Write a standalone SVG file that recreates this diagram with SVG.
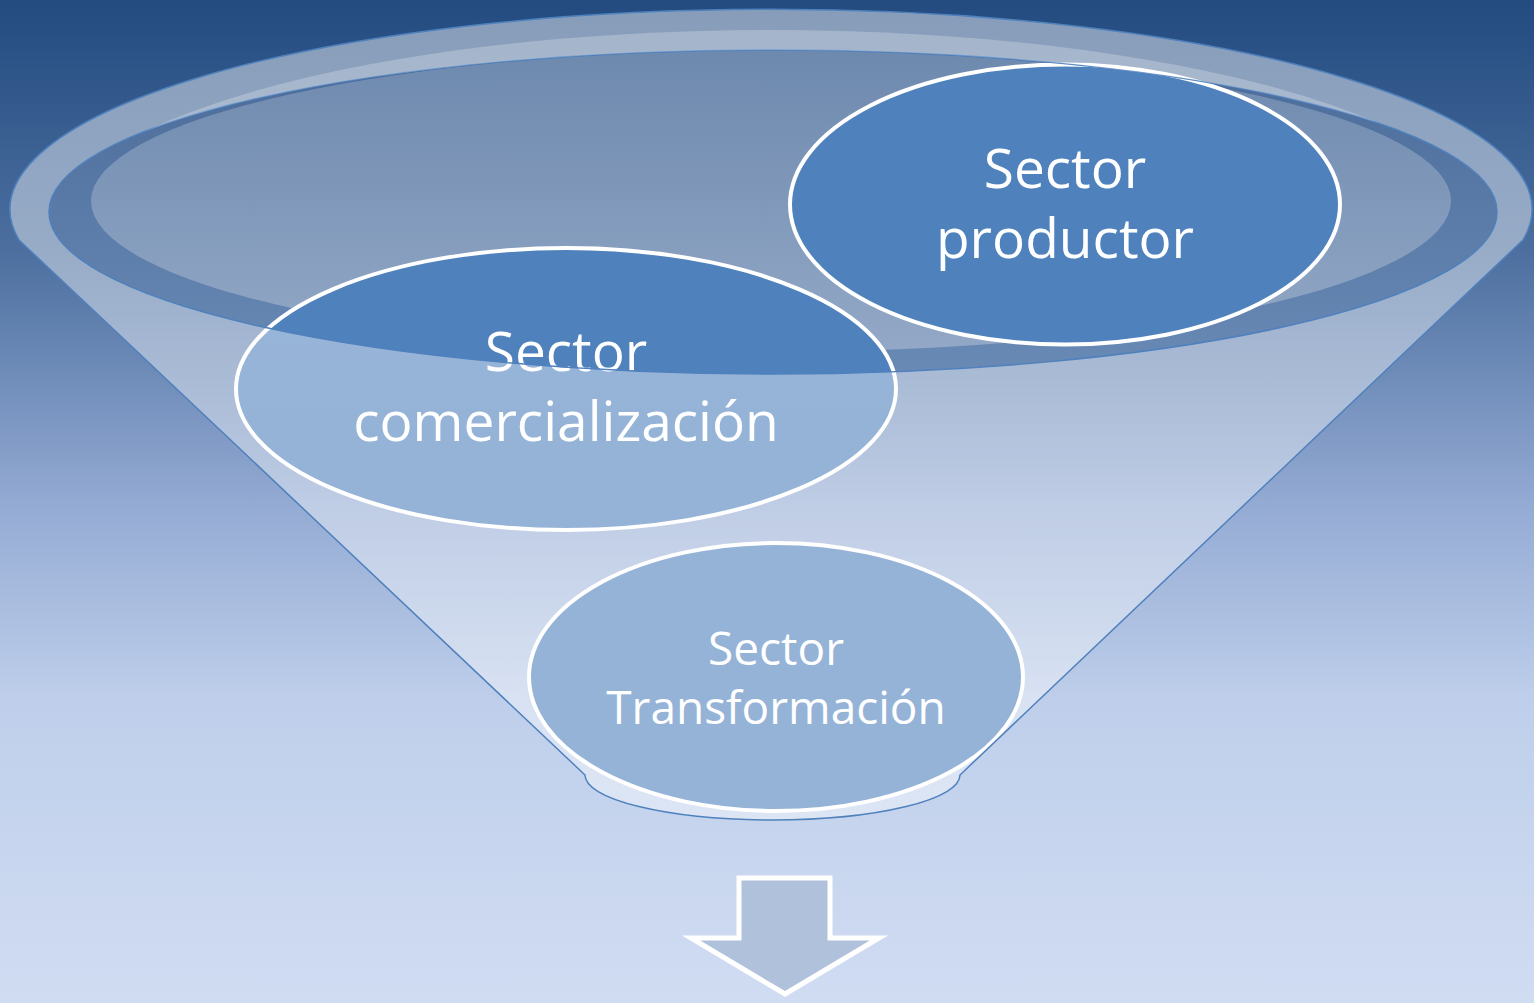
<svg xmlns="http://www.w3.org/2000/svg" width="1534" height="1003" viewBox="0 0 1534 1003">
<defs>
<linearGradient id="bg" x1="0" y1="0" x2="0" y2="1">
<stop offset="0" stop-color="#234B80"/>
<stop offset="0.25" stop-color="#4C6F9F"/>
<stop offset="0.5" stop-color="#93AAD3"/>
<stop offset="0.7" stop-color="#BFCFEB"/>
<stop offset="1" stop-color="#D0DCF2"/>
</linearGradient>
<linearGradient id="overlay" gradientUnits="userSpaceOnUse" x1="0" y1="10" x2="0" y2="820">
<stop offset="0" stop-color="#FFFFFF" stop-opacity="0.45"/>
<stop offset="0.5" stop-color="#FFFFFF" stop-opacity="0.4"/>
<stop offset="1" stop-color="#FFFFFF" stop-opacity="0.4"/>
</linearGradient>
<linearGradient id="darkIn" gradientUnits="userSpaceOnUse" x1="0" y1="50" x2="0" y2="374">
<stop offset="0" stop-color="#4A6A98"/>
<stop offset="1" stop-color="#6A8AB6"/>
</linearGradient>
<linearGradient id="lightIn" gradientUnits="userSpaceOnUse" x1="0" y1="50" x2="0" y2="350">
<stop offset="0" stop-color="#6D89AE"/>
<stop offset="1" stop-color="#93A8C6"/>
</linearGradient>
<clipPath id="topHalf"><rect x="0" y="0" width="1534" height="212"/></clipPath>
<clipPath id="rim"><path clip-rule="evenodd" d="M10 210 A761 200 0 1 1 1532 210 A761 200 0 1 1 10 210 Z M49 212 A724 162 0 1 0 1497 212 A724 162 0 1 0 49 212 Z"/></clipPath>
</defs>
<style>
.node{fill:#4F81BD;stroke:#FFFFFF;stroke-width:4}
.lbl{font-family:"Open Sans","Liberation Sans",sans-serif;fill:#FFFFFF;text-anchor:middle}
.edge{stroke:#4F81BD;stroke-width:1.5}
</style>
<rect x="0" y="0" width="1534" height="1003" fill="url(#bg)"/>
<g id="opening">
<ellipse cx="773" cy="212" rx="724" ry="162" fill="url(#darkIn)"/>
<ellipse cx="771" cy="201" rx="680" ry="151" fill="url(#lightIn)"/>
</g>
<g id="node-productor">
<ellipse class="node" cx="1065" cy="204.5" rx="275" ry="140"/>
<text class="lbl" x="1065" y="188" font-size="55">Sector</text>
<text class="lbl" x="1065" y="258" font-size="55">productor</text>
</g>
<g id="node-comercializacion">
<ellipse class="node" cx="566" cy="389" rx="330" ry="141"/>
<text class="lbl" x="566" y="371" font-size="55">Sector</text>
<text class="lbl" x="566" y="441" font-size="55">comercialización</text>
</g>
<g id="node-transformacion">
<ellipse class="node" cx="776" cy="677" rx="247" ry="134"/>
<text class="lbl" x="776" y="665" font-size="46">Sector</text>
<text class="lbl" x="776" y="724" font-size="46">Transformación</text>
</g>
<g id="funnel">
<path class="edge" fill="url(#overlay)" fill-rule="evenodd" d="M19 240 A761 200 0 1 1 1523 240 L960 775 A187.5 45 0 0 1 585 775 Z M49 212 A724 162 0 1 0 1497 212 A724 162 0 1 0 49 212 Z"/>
<g clip-path="url(#topHalf)">
<ellipse cx="771" cy="235" rx="725" ry="205" fill="#FFFFFF" fill-opacity="0.24" clip-path="url(#rim)"/>
</g>
</g>
<g id="connectors">
<path d="M739 878 L830 878 L830 938 L879 938 L785 994 L691 938 L739 938 Z" fill="#B0C1DB" stroke="#FFFFFF" stroke-width="5"/>
</g>
</svg>
